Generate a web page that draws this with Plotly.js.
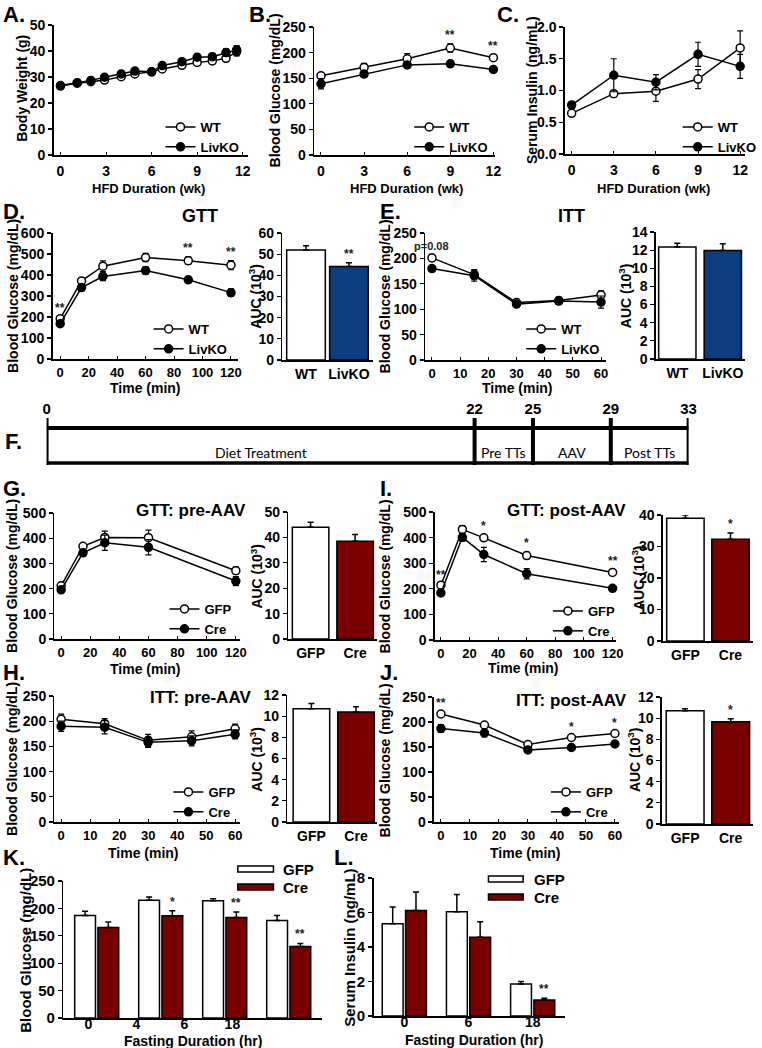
<!DOCTYPE html>
<html><head><meta charset="utf-8">
<script src="https://cdn.plot.ly/plotly-3.0.1.min.js"></script>
<style>html,body{margin:0;padding:0;background:#fff;}#chart{width:762px;height:1048px;}</style>
</head><body><div id="chart"></div>
<script>
// ================= DATA =================
// A. Body weight
const weeksA = [0, 1.1, 2, 2.9, 4, 4.9, 6, 6.7, 8, 9, 10, 10.9, 11.6];
const bwWT = [26.5, 27.6, 28.2, 28.8, 30.1, 31.2, 32.0, 33.1, 34.5, 35.6, 36.2, 37.2, 39.7];
const bwWTerr = [0.5, 0.6, 0.6, 0.7, 0.7, 0.8, 0.8, 0.9, 1.0, 1.1, 1.2, 1.3, 1.6];
const bwKO = [26.7, 27.8, 28.7, 29.9, 31.2, 32.3, 32.0, 34.4, 35.9, 37.6, 37.8, 39.4, 40.4];
const bwKOerr = [0.6, 0.6, 0.7, 0.8, 0.8, 0.9, 1.0, 1.0, 1.1, 1.2, 1.2, 1.4, 1.7];
// B. Blood glucose during HFD
const weeksBC = [0, 3, 6, 9, 12];
const bgWT = [155, 171, 188, 209, 190];
const bgWTerr = [6, 8, 10, 8, 5];
const bgKO = [139, 158, 176, 178, 167];
const bgKOerr = [10, 5, 6, 3, 4];
const bgSig = ['', '', '', '**', '**'];
// C. Serum insulin during HFD
const insWT = [0.64, 0.95, 0.99, 1.18, 1.67];
const insWTerr = [0.03, 0.05, 0.16, 0.15, 0.27];
const insKO = [0.77, 1.24, 1.13, 1.57, 1.38];
const insKOerr = [0.05, 0.26, 0.12, 0.19, 0.19];
// D. GTT
const tGTT = [0, 15, 30, 60, 90, 120];
const gttWT = [192, 372, 442, 483, 468, 447];
const gttWTerr = [8, 10, 25, 20, 18, 22];
const gttKO = [168, 340, 393, 421, 377, 316];
const gttKOerr = [6, 15, 20, 18, 12, 18];
const gttSig = ['**', '', '', '', '**', '**'];
const genoCats = ['WT', 'LivKO'];
const gttAUC = [52, 44.2];
const gttAUCerr = [2, 1.8];
const gttAUCsig = ['', '**'];
// E. ITT
const tITT = [0, 15, 30, 45, 60];
const ittWT = [201, 168, 113, 117, 128];
const ittWTerr = [7, 10, 6, 7, 8];
const ittKO = [180, 166, 110, 116, 114];
const ittKOerr = [4, 11, 5, 6, 12];
const ittSig = ['p=0.08', '', '', '', ''];
const ittAUC = [12.35, 11.95];
const ittAUCerr = [0.4, 0.75];
// F. Timeline
const tlWeeks = [0, 22, 25, 29, 33];
const tlStages = ['Diet Treatment', 'Pre TTs', 'AAV', 'Post TTs'];
// G. GTT pre-AAV
const tGTT2 = [0, 15, 30, 60, 120];
const vecCats = ['GFP', 'Cre'];
const gPreGFP = [211, 368, 403, 402, 271];
const gPreGFPerr = [8, 8, 25, 30, 15];
const gPreCre = [195, 342, 382, 364, 230];
const gPreCreerr = [6, 12, 30, 30, 18];
const gPreAUC = [44, 38.5];
const gPreAUCerr = [2, 2.6];
// I. GTT post-AAV
const gPostGFP = [214, 432, 399, 330, 264];
const gPostGFPerr = [6, 15, 10, 12, 8];
const gPostCre = [184, 401, 334, 259, 202];
const gPostCreerr = [6, 15, 28, 20, 8];
const gPostSig = ['**', '', '*', '*', '**'];
const gPostAUC = [39, 32.3];
const gPostAUCerr = [1, 2];
const gPostAUCsig = ['', '*'];
// H. ITT pre-AAV
const iPreGFP = [204, 195, 162, 169, 185];
const iPreGFPerr = [10, 10, 12, 12, 9];
const iPreCre = [190, 188, 158, 161, 174];
const iPreCreerr = [10, 13, 10, 10, 9];
const iPreAUC = [10.7, 10.4];
const iPreAUCerr = [0.5, 0.5];
// J. ITT post-AAV
const iPostGFP = [216, 194, 155, 169, 177];
const iPostGFPerr = [4, 4, 3, 4, 4];
const iPostCre = [187, 178, 144, 149, 156];
const iPostCreerr = [8, 8, 4, 5, 5];
const iPostSig = ['**', '', '', '*', '*'];
const iPostAUC = [10.7, 9.65];
const iPostAUCerr = [0.2, 0.3];
const iPostAUCsig = ['', '*'];
// K. Fasting blood glucose
const kTickLabels = ['0', '4', '6', '18'];
const kGFP = [187, 215, 214, 178];
const kGFPerr = [8, 6, 3.5, 9];
const kCre = [165, 186.5, 183.5, 130.5];
const kCreerr = [10, 9, 10, 5.5];
const kCreSig = ['', '*', '**', '**'];
// L. Fasting serum insulin
const lTickLabels = ['0', '6', '18'];
const lGFP = [5.35, 6.05, 1.86];
const lGFPerr = [0.97, 1.0, 0.14];
const lCre = [6.12, 4.57, 0.93];
const lCreerr = [1.07, 0.9, 0.1];
const lCreSig = ['', '', '**'];

// ================= STYLE / LAYOUT =================
const W = 762, H = 1048;
const F = "'Liberation Sans', Arial, sans-serif";
const BLUE = '#0b3d80', RED = '#7a0000';
const px = x => x / W, py = y => 1 - y / H;

const layout = {
  width: W, height: H, margin: {l: 0, r: 0, t: 0, b: 0},
  paper_bgcolor: '#fff', plot_bgcolor: 'rgba(0,0,0,0)',
  font: {family: F, size: 14, color: '#000', weight: 'bold'},
  barmode: 'group', bargap: 0.274, bargroupgap: 0.105,
  showlegend: true, annotations: [], shapes: []
};
const traces = [];
const A = layout.annotations, S = layout.shapes;

const tf = (size) => ({family: F, size: size, weight: 'bold', color: '#000'});
const baseX = {showline: true, linecolor: '#000', linewidth: 1.5, showgrid: false, zeroline: false,
  ticks: 'inside', ticklen: 3, tickwidth: 1, tickcolor: '#000', fixedrange: true, tickfont: tf(14)};
const baseY = {showline: true, linecolor: '#000', linewidth: 1.5, showgrid: false, zeroline: false,
  ticks: 'outside', ticklen: 4, tickwidth: 1.2, tickcolor: '#000', fixedrange: true, tickfont: tf(14)};

function names(n) { return n === 1 ? ['xaxis', 'yaxis', 'x', 'y'] : ['xaxis' + n, 'yaxis' + n, 'x' + n, 'y' + n]; }
function setAxes(n, xp, yp, xr, yr, xo, yo) {
  const [xk, yk, xa, ya] = names(n);
  layout[xk] = Object.assign({}, baseX, {domain: [px(xp[0]), px(xp[1])], anchor: ya, range: xr}, xo || {});
  layout[yk] = Object.assign({}, baseY, {domain: [py(yp[1]), py(yp[0])], anchor: xa, range: yr}, yo || {});
}
function lineTrace(n, x, y, e, filled, name, leg) {
  const [, , xa, ya] = names(n);
  return {type: 'scatter', mode: 'lines+markers', x: x, y: y, name: name, xaxis: xa, yaxis: ya,
    legend: leg, cliponaxis: false,
    line: {color: '#000', width: 1.5},
    marker: {symbol: 'circle', size: 8, color: filled ? '#000' : '#fff', line: {color: '#000', width: 1.5}},
    error_y: {type: 'data', array: e, color: '#000', thickness: 1.2, width: 3}};
}
function sigAnn(n, x, y, e, sig, size) {
  const [, , xa, ya] = names(n);
  sig.forEach((s, i) => {
    if (!s) return;
    A.push({text: s, x: x[i], y: y[i] + e[i], xref: xa, yref: ya, showarrow: false,
      yanchor: 'bottom', yshift: 0, font: {family: F, size: size || 12, weight: 'bold', color: '#222'}});
  });
}
function aucBar(n, cats, vals, errs, colors, width) {
  const [, , xa, ya] = names(n);
  traces.push({type: 'bar', x: cats, y: vals, xaxis: xa, yaxis: ya, width: width, showlegend: false,
    marker: {color: colors, line: {color: '#000', width: 1.5}},
    error_y: {type: 'data', array: errs, arrayminus: errs.map(() => 0), symmetric: false,
      color: '#000', thickness: 1.5, width: 3}});
}
function legendAt(key, x, y) {
  layout[key] = {x: px(x), y: py(y), xanchor: 'left', yanchor: 'top', xref: 'paper', yref: 'paper',
    bgcolor: 'rgba(0,0,0,0)', font: tf(13), itemwidth: 30, tracegroupgap: 0};
}
function txt(text, x, y, size, opts) {
  A.push(Object.assign({text: text, x: px(x), y: py(y), xref: 'paper', yref: 'paper', showarrow: false,
    xanchor: 'center', yanchor: 'middle', font: tf(size)}, opts || {}));
}
function ytitle(text, x, y, size) { txt(text, x, y, size || 14, {textangle: -90}); }
function letter(text, x, y) { txt(text, x, y, 22, {xanchor: 'left'}); }

// ---------- Row 1: A, B, C ----------
setAxes(1, [54, 250], [25, 155], [-0.46, 12.33], [0, 50], {tickvals: weeksBC, ticklabelstandoff: 3}, {dtick: 10});
setAxes(2, [317, 500], [27, 155], [-0.48, 12.14], [0, 250], {tickvals: weeksBC, ticklabelstandoff: 3}, {dtick: 50});
setAxes(3, [570, 752], [27, 154], [-0.49, 12.35], [0, 2], {tickvals: weeksBC, ticklabelstandoff: 3}, {dtick: 0.5, tickformat: '.1f'});
traces.push(lineTrace(1, weeksA, bwWT, bwWTerr, false, 'WT', 'legend'));
traces.push(lineTrace(1, weeksA, bwKO, bwKOerr, true, 'LivKO', 'legend'));
traces.push(lineTrace(2, weeksBC, bgWT, bgWTerr, false, 'WT', 'legend2'));
traces.push(lineTrace(2, weeksBC, bgKO, bgKOerr, true, 'LivKO', 'legend2'));
traces.push(lineTrace(3, weeksBC, insWT, insWTerr, false, 'WT', 'legend3'));
traces.push(lineTrace(3, weeksBC, insKO, insKOerr, true, 'LivKO', 'legend3'));
sigAnn(2, weeksBC, bgWT, bgWTerr, bgSig);
legendAt('legend', 162, 112); legendAt('legend2', 413, 112); legendAt('legend3', 684, 112);
letter('A.', 1, 15); letter('B.', 249, 15); letter('C.', 500, 15);
ytitle('Body Weight (g)', 22, 88); ytitle('Blood Glucose (mg/dL)', 278, 90); ytitle('Serum Insulin (ng/mL)', 537, 90);
txt('HFD Duration (wk)', 150, 188, 13); txt('HFD Duration (wk)', 410, 188, 13); txt('HFD Duration (wk)', 660, 188, 13);

// ---------- Row 2: D, E ----------
const lineX = {tickfont: tf(13), ticklabelstandoff: 1};
setAxes(4, [53, 240], [233, 359], [-5.4, 124.8], [0, 600], Object.assign({dtick: 20, tick0: 0}, lineX), {dtick: 100});
setAxes(5, [285, 376], [233, 360], [-0.55, 1.55], [0, 60], {type: 'category', ticks: '', ticklabelstandoff: 1}, {dtick: 10});
setAxes(6, [429, 612], [233, 360], [-2.46, 61.9], [0, 250], Object.assign({dtick: 10, tick0: 0}, lineX), {dtick: 50});
setAxes(7, [662, 752], [232, 359], [-0.47, 1.49], [0, 14], {type: 'category', ticks: '', ticklabelstandoff: 1}, {dtick: 2});
traces.push(lineTrace(4, tGTT, gttWT, gttWTerr, false, 'WT', 'legend4'));
traces.push(lineTrace(4, tGTT, gttKO, gttKOerr, true, 'LivKO', 'legend4'));
traces.push(lineTrace(6, tITT, ittWT, ittWTerr, false, 'WT', 'legend5'));
traces.push(lineTrace(6, tITT, ittKO, ittKOerr, true, 'LivKO', 'legend5'));
aucBar(5, genoCats, gttAUC, gttAUCerr, ['#fff', BLUE], 0.9);
aucBar(7, genoCats, ittAUC, ittAUCerr, ['#fff', BLUE], 0.82);
sigAnn(4, tGTT, gttWT, gttWTerr, gttSig);
sigAnn(5, genoCats, gttAUC, gttAUCerr, gttAUCsig);
sigAnn(6, tITT, ittWT, ittWTerr, ittSig, 11);
legendAt('legend4', 150, 314); legendAt('legend5', 526, 314);
letter('D.', 1, 211); letter('E.', 381, 211);
txt('GTT', 202, 216, 18); txt('ITT', 577, 216, 18);
ytitle('Blood Glucose (mg/dL)', 13, 296); ytitle('AUC (10<sup>3</sup>)', 257, 296);
ytitle('Blood Glucose (mg/dL)', 389, 296); ytitle('AUC (10<sup>3</sup>)', 631, 296);
txt('Time (min)', 147, 388, 14); txt('Time (min)', 522, 388, 14);

// ---------- Row F: timeline ----------
setAxes(18, [47, 695], [400, 470], [0, 33], [0, 1], {visible: false}, {visible: false});
traces.push({type: 'scatter', mode: 'text', x: tlWeeks, y: tlWeeks.map(() => 0.857), text: tlWeeks.map(String),
  xaxis: 'x18', yaxis: 'y18', showlegend: false, cliponaxis: false, textfont: tf(15), hoverinfo: 'skip'});
S.push({type: 'line', xref: 'x18', yref: 'paper', x0: tlWeeks[0], x1: tlWeeks[tlWeeks.length - 1], y0: py(428), y1: py(428), line: {color: '#000', width: 4}});
S.push({type: 'line', xref: 'x18', yref: 'paper', x0: tlWeeks[0], x1: tlWeeks[tlWeeks.length - 1], y0: py(463), y1: py(463), line: {color: '#000', width: 3.5}});
tlWeeks.forEach(w => S.push({type: 'line', xref: 'x18', yref: 'paper', x0: w, x1: w, y0: py(418), y1: py(465), line: {color: '#000', width: 4}}));
tlStages.forEach((s, i) => A.push({text: s, x: (tlWeeks[i] + tlWeeks[i + 1]) / 2, y: py(452), xref: 'x18', yref: 'paper',
  showarrow: false, font: {family: 'Lato, ' + F, size: 14, weight: 'normal', color: '#000'}}));
letter('F.', 3, 441);

// ---------- Row G / I ----------
setAxes(8, [55, 242], [513, 639], [-4.56, 122.7], [0, 500], Object.assign({dtick: 20, tick0: 0}, lineX), {dtick: 100});
setAxes(9, [291, 380], [512, 639], [-0.5, 1.48], [0, 50], {type: 'category', ticks: '', ticklabelstandoff: 1}, {dtick: 10});
setAxes(10, [439, 622], [512, 640], [-4.15, 122.6], [0, 500], Object.assign({dtick: 20, tick0: 0}, lineX), {dtick: 100});
setAxes(11, [669, 760], [515, 641], [-0.5, 1.5], [0, 40], {type: 'category', ticks: '', ticklabelstandoff: 1}, {dtick: 10});
traces.push(lineTrace(8, tGTT2, gPreGFP, gPreGFPerr, false, 'GFP', 'legend6'));
traces.push(lineTrace(8, tGTT2, gPreCre, gPreCreerr, true, 'Cre', 'legend6'));
traces.push(lineTrace(10, tGTT2, gPostGFP, gPostGFPerr, false, 'GFP', 'legend7'));
traces.push(lineTrace(10, tGTT2, gPostCre, gPostCreerr, true, 'Cre', 'legend7'));
aucBar(9, vecCats, gPreAUC, gPreAUCerr, ['#fff', RED], 0.82);
aucBar(11, vecCats, gPostAUC, gPostAUCerr, ['#fff', RED], 0.83);
sigAnn(10, tGTT2, gPostGFP, gPostGFPerr, gPostSig);
sigAnn(11, vecCats, gPostAUC, gPostAUCerr, gPostAUCsig);
legendAt('legend6', 166, 594); legendAt('legend7', 553, 596);
letter('G.', 1, 488); letter('I.', 381, 488);
txt('GTT: pre-AAV', 193, 510, 17); txt('GTT: post-AAV', 572, 510, 17);
ytitle('Blood Glucose (mg/dL)', 12, 576); ytitle('AUC (10<sup>3</sup>)', 259, 576);
ytitle('Blood Glucose (mg/dL)', 389, 576); ytitle('AUC (10<sup>3</sup>)', 644, 578);
txt('Time (min)', 147, 669, 14); txt('Time (min)', 528, 668, 14);

// ---------- Row H / J ----------
setAxes(12, [55, 242], [696, 822], [-2.29, 61.6], [0, 250], Object.assign({dtick: 10, tick0: 0}, lineX), {dtick: 50});
setAxes(13, [290, 380], [695, 822], [-0.54, 1.46], [0, 12], {type: 'category', ticks: '', ticklabelstandoff: 1}, {dtick: 2});
setAxes(14, [438, 625], [697, 822], [-2.4, 61.5], [0, 250], Object.assign({dtick: 10, tick0: 0}, lineX), {dtick: 50});
setAxes(15, [668, 760], [697, 824], [-0.51, 1.49], [0, 12], {type: 'category', ticks: '', ticklabelstandoff: 1}, {dtick: 2});
traces.push(lineTrace(12, tITT, iPreGFP, iPreGFPerr, false, 'GFP', 'legend8'));
traces.push(lineTrace(12, tITT, iPreCre, iPreCreerr, true, 'Cre', 'legend8'));
traces.push(lineTrace(14, tITT, iPostGFP, iPostGFPerr, false, 'GFP', 'legend9'));
traces.push(lineTrace(14, tITT, iPostCre, iPostCreerr, true, 'Cre', 'legend9'));
aucBar(13, vecCats, iPreAUC, iPreAUCerr, ['#fff', RED], 0.82);
aucBar(15, vecCats, iPostAUC, iPostAUCerr, ['#fff', RED], 0.83);
sigAnn(14, tITT, iPostGFP, iPostGFPerr, iPostSig);
sigAnn(15, vecCats, iPostAUC, iPostAUCerr, iPostAUCsig);
legendAt('legend8', 170, 777); legendAt('legend9', 551, 777);
letter('H.', 1, 672); letter('J.', 381, 672);
txt('ITT: pre-AAV', 202, 697, 17); txt('ITT: post-AAV', 577, 700, 17);
ytitle('Blood Glucose (mg/dL)', 12, 759); ytitle('AUC (10<sup>3</sup>)', 258, 759);
ytitle('Blood Glucose (mg/dL)', 389, 760); ytitle('AUC (10<sup>3</sup>)', 640, 760);
txt('Time (min)', 145, 853, 14); txt('Time (min)', 530, 853, 14);

// ---------- Row K / L ----------
const kX = kTickLabels.map((_, i) => i + 1);
const lX = lTickLabels.map((_, i) => i + 1);
setAxes(16, [64, 325], [881, 1018], [0.48, 4.52], [0, 250],
  {ticks: '', tickvals: [0.87, 1.62, 2.37, 3.12], ticktext: kTickLabels, ticklabelstandoff: -7, tickfont: tf(14)}, {dtick: 50, tickfont: tf(15)});
setAxes(17, [377, 570], [878, 1016], [0.52, 3.5], [0, 8],
  {ticks: '', tickvals: lX, ticktext: lTickLabels, ticklabelstandoff: -7, tickfont: tf(14)}, {dtick: 2, tickfont: tf(15)});
function groupBar(n, x, y, e, color, name) {
  const [, , xa, ya] = names(n);
  traces.push({type: 'bar', x: x, y: y, name: name, xaxis: xa, yaxis: ya, showlegend: false, offsetgroup: name,
    marker: {color: color, line: {color: '#000', width: 1.5}},
    error_y: {type: 'data', array: e, arrayminus: e.map(() => 0), symmetric: false, color: '#000', thickness: 1.5, width: 3}});
}
groupBar(16, kX, kGFP, kGFPerr, '#fff', 'GFP');
groupBar(16, kX, kCre, kCreerr, RED, 'Cre');
groupBar(17, lX, lGFP, lGFPerr, '#fff', 'GFP');
groupBar(17, lX, lCre, lCreerr, RED, 'Cre');
sigAnn(16, kX.map(v => v + 0.18), kCre, kCreerr, kCreSig);
sigAnn(17, lX.map(v => v + 0.18), lCre, lCreerr, lCreSig);
// manual bar legends (wide swatches as in the original)
[[240, 276, 869, 284], [493, 528, 879, 537]].forEach(([x0, x1, yc, tx]) => {
  vecCats.forEach((c, i) => {
    const y = yc + i * 18;
    S.push({type: 'rect', xref: 'paper', yref: 'paper', x0: px(x0), x1: px(x1), y0: py(y + 3), y1: py(y - 3),
      fillcolor: i === 0 ? '#fff' : RED, line: {color: '#000', width: 1.5}});
    txt(c, tx, y, 15, {xanchor: 'left'});
  });
});
letter('K.', 1, 857); letter('L.', 335, 857);
ytitle('Blood Glucose (mg/dL)', 25, 950, 15); ytitle('Serum Insulin (ng/mL)', 352, 948, 15);
txt('Fasting Duration (hr)', 195, 1041, 14); txt('Fasting Duration (hr)', 478, 1040, 14);

Plotly.newPlot('chart', traces, layout, {staticPlot: true, displayModeBar: false});
</script>
</body></html>
